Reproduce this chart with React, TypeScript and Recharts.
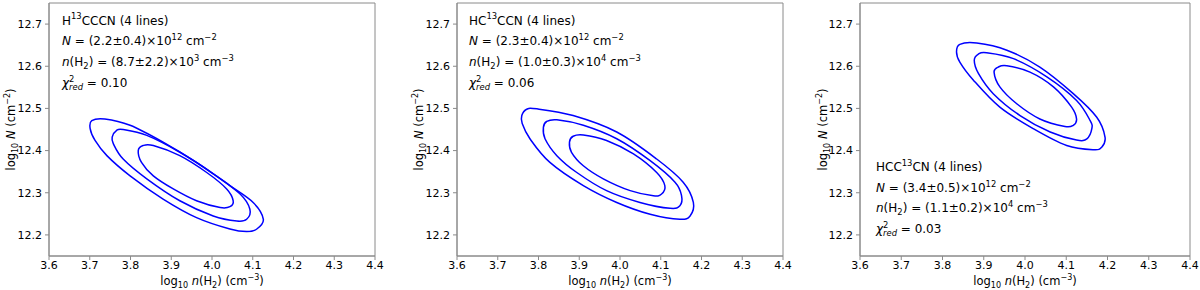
import React from "react";
import { LineChart, Line, XAxis, YAxis, ReferenceArea } from "recharts";

type Pt = [number, number];

const xTicks = [3.6, 3.7, 3.8, 3.9, 4.0, 4.1, 4.2, 4.3, 4.4];
const yTicks = [12.2, 12.3, 12.4, 12.5, 12.6, 12.7];

// H13CCCN contours (log n, log N)
const h13cccnOuter: Pt[] = [
  [3.880, 12.420], [3.962, 12.372], [4.044, 12.317], [4.101, 12.277], [4.126, 12.237],
  [4.110, 12.214], [4.085, 12.208], [4.044, 12.214], [3.962, 12.241], [3.880, 12.285],
  [3.799, 12.340], [3.742, 12.388], [3.713, 12.424], [3.701, 12.452], [3.705, 12.471],
  [3.737, 12.475], [3.799, 12.460], [3.880, 12.420],
];
const h13cccnMid: Pt[] = [
  [3.840, 12.436], [3.921, 12.396], [4.003, 12.345], [4.069, 12.297], [4.093, 12.261],
  [4.085, 12.237], [4.061, 12.233], [4.003, 12.245], [3.921, 12.281], [3.840, 12.333],
  [3.782, 12.380], [3.758, 12.416], [3.755, 12.432], [3.766, 12.448], [3.782, 12.450],
  [3.840, 12.436],
];
const h13cccnInner: Pt[] = [
  [3.921, 12.388], [3.987, 12.348], [4.036, 12.309], [4.052, 12.281], [4.044, 12.267],
  [4.020, 12.265], [3.962, 12.281], [3.905, 12.309], [3.856, 12.340], [3.827, 12.372],
  [3.819, 12.400], [3.831, 12.412], [3.856, 12.412], [3.921, 12.388],
];

// HC13CCN contours
const hc13ccnOuter: Pt[] = [
  [3.885, 12.483], [3.992, 12.444], [4.090, 12.380], [4.155, 12.325], [4.180, 12.277],
  [4.172, 12.245], [4.147, 12.237], [4.074, 12.249], [3.992, 12.277], [3.910, 12.317],
  [3.828, 12.372], [3.779, 12.428], [3.760, 12.464], [3.759, 12.483], [3.771, 12.498],
  [3.796, 12.499], [3.885, 12.483],
];
const hc13ccnMid: Pt[] = [
  [3.910, 12.460], [3.992, 12.428], [4.074, 12.376], [4.135, 12.325], [4.151, 12.293],
  [4.147, 12.269], [4.123, 12.263], [4.049, 12.277], [3.967, 12.305], [3.894, 12.348],
  [3.845, 12.388], [3.816, 12.428], [3.812, 12.455], [3.820, 12.469], [3.845, 12.473],
  [3.910, 12.460],
];
const hc13ccnInner: Pt[] = [
  [3.967, 12.424], [4.033, 12.392], [4.090, 12.348], [4.110, 12.317], [4.102, 12.297],
  [4.082, 12.293], [4.025, 12.305], [3.959, 12.333], [3.910, 12.364], [3.881, 12.396],
  [3.876, 12.420], [3.885, 12.434], [3.910, 12.437], [3.967, 12.424],
];

// HCC13CN contours
const hcc13cnOuter: Pt[] = [
  [3.956, 12.638], [4.036, 12.598], [4.117, 12.535], [4.174, 12.479], [4.194, 12.432],
  [4.186, 12.408], [4.166, 12.402], [4.101, 12.412], [4.020, 12.452], [3.939, 12.503],
  [3.875, 12.567], [3.842, 12.610], [3.834, 12.634], [3.842, 12.652], [3.883, 12.655],
  [3.956, 12.638],
];
const hcc13cnMid: Pt[] = [
  [3.972, 12.618], [4.053, 12.575], [4.125, 12.519], [4.158, 12.471], [4.162, 12.452],
  [4.150, 12.428], [4.125, 12.425], [4.061, 12.444], [3.988, 12.483], [3.923, 12.535],
  [3.887, 12.583], [3.877, 12.614], [3.887, 12.629], [3.907, 12.632], [3.972, 12.618],
];
const hcc13cnInner: Pt[] = [
  [4.012, 12.586], [4.069, 12.551], [4.113, 12.503], [4.125, 12.475], [4.117, 12.460],
  [4.097, 12.457], [4.036, 12.475], [3.980, 12.511], [3.939, 12.551], [3.925, 12.586],
  [3.935, 12.598], [3.956, 12.601], [4.012, 12.586],
];

// annotation text, one list of segments per line
type Seg = { t: string; k?: "sup" | "sub" | "it" | "itsub"; dx?: number };

const h13cccnText: Seg[][] = [
  [{ t: "H" }, { t: "13", k: "sup" }, { t: "CCCN (4 lines)" }],
  [{ t: "N", k: "it" }, { t: " = (2.2±0.4)×10" }, { t: "12", k: "sup" }, { t: " cm" }, { t: "−2", k: "sup" }],
  [{ t: "n", k: "it" }, { t: "(H" }, { t: "2", k: "sub" }, { t: ") = (8.7±2.2)×10" }, { t: "3", k: "sup" }, { t: " cm" }, { t: "−3", k: "sup" }],
  [{ t: "χ", k: "it" }, { t: "2", k: "sup" }, { t: "red", k: "itsub", dx: -5.4 }, { t: " = 0.10" }],
];
const hc13ccnText: Seg[][] = [
  [{ t: "HC" }, { t: "13", k: "sup" }, { t: "CCN (4 lines)" }],
  [{ t: "N", k: "it" }, { t: " = (2.3±0.4)×10" }, { t: "12", k: "sup" }, { t: " cm" }, { t: "−2", k: "sup" }],
  [{ t: "n", k: "it" }, { t: "(H" }, { t: "2", k: "sub" }, { t: ") = (1.0±0.3)×10" }, { t: "4", k: "sup" }, { t: " cm" }, { t: "−3", k: "sup" }],
  [{ t: "χ", k: "it" }, { t: "2", k: "sup" }, { t: "red", k: "itsub", dx: -5.4 }, { t: " = 0.06" }],
];
const hcc13cnText: Seg[][] = [
  [{ t: "HCC" }, { t: "13", k: "sup" }, { t: "CN (4 lines)" }],
  [{ t: "N", k: "it" }, { t: " = (3.4±0.5)×10" }, { t: "12", k: "sup" }, { t: " cm" }, { t: "−2", k: "sup" }],
  [{ t: "n", k: "it" }, { t: "(H" }, { t: "2", k: "sub" }, { t: ") = (1.1±0.2)×10" }, { t: "4", k: "sup" }, { t: " cm" }, { t: "−3", k: "sup" }],
  [{ t: "χ", k: "it" }, { t: "2", k: "sup" }, { t: "red", k: "itsub", dx: -5.4 }, { t: " = 0.03" }],
];

const xLabel: Seg[] = [
  { t: "log" }, { t: "10", k: "sub" }, { t: " " }, { t: "n", k: "it" }, { t: "(H" }, { t: "2", k: "sub" },
  { t: ") (cm" }, { t: "−3", k: "sup" }, { t: ")" },
];
const yLabel: Seg[] = [
  { t: "log" }, { t: "10", k: "sub" }, { t: " " }, { t: "N", k: "it" }, { t: " (cm" }, { t: "−2", k: "sup" }, { t: ")" },
];

const FONT = "DejaVu Sans";
const FRAME = "#8a8a8a";

// closed Catmull-Rom curve for the contour loops (last point repeats the first)
const closedCurve = (context: any) => {
  let pts: Pt[] = [];
  return {
    areaStart() {},
    areaEnd() {},
    lineStart() {
      pts = [];
    },
    point(x: number, y: number) {
      pts.push([x, y]);
    },
    lineEnd() {
      const n = pts.length - 1;
      if (n < 3) return;
      const p = (i: number) => pts[((i % n) + n) % n];
      context.moveTo(p(0)[0], p(0)[1]);
      for (let i = 0; i < n; i++) {
        const p0 = p(i - 1), p1 = p(i), p2 = p(i + 1), p3 = p(i + 2);
        context.bezierCurveTo(
          p1[0] + (p2[0] - p0[0]) / 6, p1[1] + (p2[1] - p0[1]) / 6,
          p2[0] - (p3[0] - p1[0]) / 6, p2[1] - (p3[1] - p1[1]) / 6,
          p2[0], p2[1]
        );
      }
      context.closePath();
    },
  };
};

const Rich = ({ x, y, size, segs, anchor, transform }: {
  x: number; y: number; size: number; segs: Seg[]; anchor?: string; transform?: string;
}) => {
  let level = 0;
  return (
    <text x={x} y={y} fontSize={size} fontFamily={FONT} textAnchor={anchor} transform={transform} fill="#000">
      {segs.map((s, i) => {
        const small = s.k === "sup" || s.k === "sub" || s.k === "itsub";
        const target = s.k === "sup" ? -size * 0.42 : s.k === "sub" || s.k === "itsub" ? size * 0.25 : 0;
        const dy = target - level;
        level = target;
        return (
          <tspan
            key={i}
            dy={dy !== 0 ? dy : undefined}
            dx={s.dx}
            fontSize={small ? size * 0.7 : undefined}
            fontStyle={s.k === "it" || s.k === "itsub" ? "italic" : undefined}
          >
            {s.t}
          </tspan>
        );
      })}
    </text>
  );
};

interface PanelProps {
  left: number;
  plotWidth: number;
  contours: Pt[][];
}

const Panel = ({ left, plotWidth, contours }: PanelProps) => {
  const width = 400;
  return (
    <div style={{ position: "absolute", left, top: 0 }}>
      <LineChart
        width={width}
        height={290}
        margin={{ top: 3, right: width - 49 - plotWidth, left: 0, bottom: 0 }}
      >
        <XAxis
          type="number"
          dataKey="x"
          domain={[3.6, 4.4]}
          ticks={xTicks}
          allowDataOverflow
          height={34}
          tickSize={4}
          tickMargin={1}
          stroke={FRAME}
          tickFormatter={(v: number) => v.toFixed(1)}
          tick={{ fill: "#000", fontSize: 11, fontFamily: FONT }}
        />
        <YAxis
          type="number"
          dataKey="y"
          domain={[12.15, 12.75]}
          ticks={yTicks}
          allowDataOverflow
          width={49}
          tickSize={4}
          tickMargin={3}
          stroke={FRAME}
          tickFormatter={(v: number) => v.toFixed(1)}
          tick={{ fill: "#000", fontSize: 11, fontFamily: FONT }}
        />
        <ReferenceArea
          x1={3.6}
          x2={4.4}
          y1={12.15}
          y2={12.75}
          fill="none"
          stroke={FRAME}
          strokeOpacity={1}
          ifOverflow="visible"
        />
        {contours.map((c, i) => (
          <Line
            key={i}
            data={c.map(([x, y]) => ({ x, y }))}
            dataKey="y"
            type={closedCurve as any}
            stroke="#0000ff"
            strokeWidth={1.5}
            dot={false}
            activeDot={false}
            isAnimationActive={false}
          />
        ))}
      </LineChart>
    </div>
  );
};

const Annotation = ({ x, y, lines }: { x: number; y: number; lines: Seg[][] }) => (
  <>
    {lines.map((segs, i) => (
      <Rich key={i} x={x} y={y + i * 20.7} size={12} segs={segs} />
    ))}
  </>
);

const App = () => (
  <div
    style={{
      position: "fixed",
      left: 0,
      top: 0,
      width: 1200,
      height: 290,
      background: "#fff",
      overflow: "hidden",
    }}
  >
    <Panel left={0} plotWidth={326} contours={[h13cccnOuter, h13cccnMid, h13cccnInner]} />
    <Panel left={408} plotWidth={326} contours={[hc13ccnOuter, hc13ccnMid, hc13ccnInner]} />
    <Panel left={811} plotWidth={330} contours={[hcc13cnOuter, hcc13cnMid, hcc13cnInner]} />
    <svg
      width={1200}
      height={290}
      style={{ position: "absolute", left: 0, top: 0, pointerEvents: "none" }}
    >
      <Annotation x={62} y={24.5} lines={h13cccnText} />
      <Annotation x={469} y={24.5} lines={hc13ccnText} />
      <Annotation x={876} y={171} lines={hcc13cnText} />

      <Rich x={212} y={285} size={11.5} segs={xLabel} anchor="middle" />
      <Rich x={620} y={285} size={11.5} segs={xLabel} anchor="middle" />
      <Rich x={1025} y={285} size={11.5} segs={xLabel} anchor="middle" />
      <Rich x={15} y={129.5} size={11.5} segs={yLabel} anchor="middle" transform="rotate(-90 15 129.5)" />
      <Rich x={423} y={129.5} size={11.5} segs={yLabel} anchor="middle" transform="rotate(-90 423 129.5)" />
      <Rich x={827} y={129.5} size={11.5} segs={yLabel} anchor="middle" transform="rotate(-90 827 129.5)" />
    </svg>
  </div>
);

export default App;
